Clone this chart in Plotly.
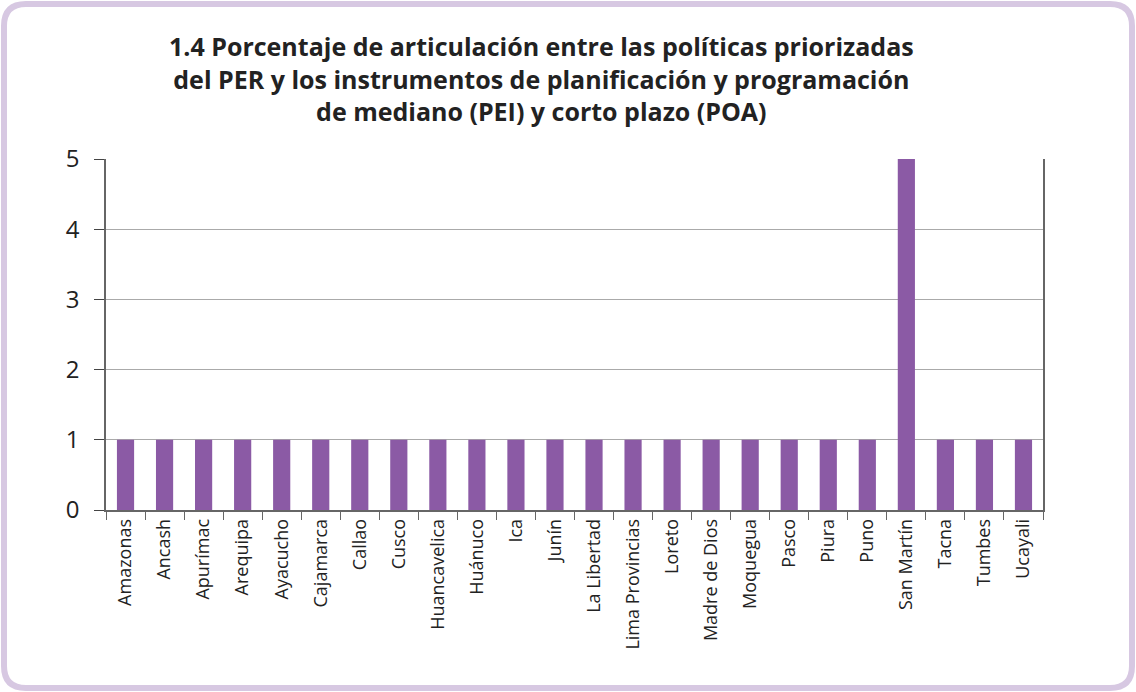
import plotly.graph_objects as go

categories = ["Amazonas", "Ancash", "Apurímac", "Arequipa", "Ayacucho", "Cajamarca",
              "Callao", "Cusco", "Huancavelica", "Huánuco", "Ica", "Junín",
              "La Libertad", "Lima Provincias", "Loreto", "Madre de Dios", "Moquegua",
              "Pasco", "Piura", "Puno", "San Martín", "Tacna", "Tumbes", "Ucayali"]
values = [1, 1, 1, 1, 1, 1, 1, 1, 1, 1, 1, 1, 1, 1, 1, 1, 1, 1, 1, 1, 5, 1, 1, 1]
y_ticks = [0, 1, 2, 3, 4, 5]

title_lines = ["1.4 Porcentaje de articulación entre las políticas priorizadas",
               "del PER y los instrumentos de planificación y programación",
               "de mediano (PEI) y corto plazo (POA)"]

FONT = "Open Sans"
BAR = "#8B5AA5"
W_FIG, H_FIG = 1136, 692
ML, MR, MT, MB = 106, 93, 159, 182

fig = go.Figure(go.Bar(x=categories, y=values, marker_color=BAR, marker_line_width=0))

fig.update_layout(
    width=W_FIG, height=H_FIG,
    paper_bgcolor="white", plot_bgcolor="white",
    margin=dict(l=ML, r=MR, t=MT, b=MB),
    bargap=0.56,
    showlegend=False,
    font=dict(family=FONT, color="#222"),
    xaxis=dict(
        type="category", tickangle=-90, tickfont=dict(size=18, color="#222"),
        showline=True, linecolor="#666", linewidth=1.5,
        ticks="outside", tickson="boundaries", ticklen=8, tickcolor="#666",
        showgrid=False,
    ),
    yaxis=dict(
        range=[0, 5], tickvals=y_ticks, tickfont=dict(size=24, color="#222"),
        showline=True, linecolor="#666", linewidth=1.5, mirror=True,
        ticks="outside", ticklen=10, tickcolor="#444", ticklabelstandoff=10,
        showgrid=True, gridcolor="#aaaaaa", gridwidth=1, zeroline=False,
    ),
)

W = W_FIG - ML - MR
H = H_FIG - MT - MB


def px(x):
    return (x - ML) / W


def py(y):
    return (H_FIG - MB - y) / H


fig.add_annotation(
    text="<br>".join(title_lines), xref="paper", yref="paper",
    x=px(541), y=py(27), xanchor="center", yanchor="top",
    showarrow=False, align="center",
    font=dict(family=FONT, size=25, color="#222", weight="bold"),
)

r = 22
x0, y0, x1, y1 = 4, 4, 1132, 688
path = (f"M{px(x0+r)},{py(y0)} L{px(x1-r)},{py(y0)} Q{px(x1)},{py(y0)} {px(x1)},{py(y0+r)} "
        f"L{px(x1)},{py(y1-r)} Q{px(x1)},{py(y1)} {px(x1-r)},{py(y1)} "
        f"L{px(x0+r)},{py(y1)} Q{px(x0)},{py(y1)} {px(x0)},{py(y1-r)} "
        f"L{px(x0)},{py(y0+r)} Q{px(x0)},{py(y0)} {px(x0+r)},{py(y0)} Z")
fig.add_shape(type="path", path=path, xref="paper", yref="paper",
              line=dict(color="#D7C8E2", width=6), layer="below")

fig.write_html("out.html", config={"displayModeBar": False},
               post_script="document.body.style.margin='0';")
